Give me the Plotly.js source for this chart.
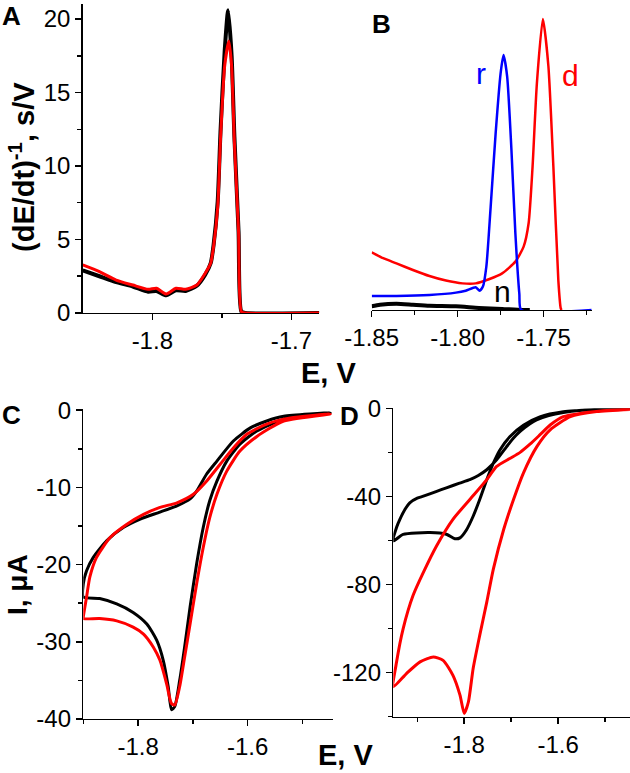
<!DOCTYPE html>
<html><head><meta charset="utf-8">
<script src="https://cdn.plot.ly/plotly-3.0.1.min.js"></script>
<style>html,body{margin:0;padding:0;background:#fff}#chart{width:630px;height:773px}</style>
</head><body><div id="chart"></div>
<script>
// ---------- Panel A : (dE/dt)^-1 vs E ----------
const A_black_E = [-1.85,-1.838,-1.826,-1.814,-1.803,-1.797,-1.790,-1.783,-1.776,-1.768,-1.762,-1.758,-1.756,-1.753,-1.751,-1.748,-1.7455,-1.743,-1.741,-1.738,-1.736,-1.733,-1.68];
const A_black_V = [2.9,2.5,2.1,1.8,1.45,1.5,1.2,1.55,1.5,1.85,2.6,3.4,4.6,7.6,12.3,17.8,20.6,17.5,12.0,5.5,0.1,0,0];
const A_red_E = [-1.85,-1.838,-1.826,-1.814,-1.803,-1.797,-1.790,-1.783,-1.776,-1.768,-1.762,-1.758,-1.756,-1.753,-1.751,-1.748,-1.745,-1.743,-1.741,-1.738,-1.736,-1.733,-1.68];
const A_red_V = [3.27,2.81,2.24,1.9,1.61,1.68,1.29,1.68,1.61,1.9,2.7,3.4,4.5,7.2,11.8,16.8,18.5,16.8,11.6,5.5,0.1,0,0];

// ---------- Panel B ----------
const B_n_E = [-1.85,-1.8452,-1.8356,-1.826,-1.8164,-1.801,-1.7876,-1.7741,-1.7625,-1.758];
const B_n_V = [0.25,0.36,0.43,0.36,0.29,0.25,0.14,0.07,0,0];
const B_d_E = [-1.85,-1.8433,-1.8356,-1.826,-1.8164,-1.8068,-1.7972,-1.7895,-1.7818,-1.7741,-1.7664,-1.7616,-1.7587,-1.7564,-1.7539,-1.7504,-1.7472,-1.7443,-1.7414,-1.74,-1.7395];
const B_d_V = [3.92,3.52,3.17,2.72,2.31,2.0,1.81,1.81,2.09,2.49,3.29,4.31,5.9,9.75,15.4,19.8,16.6,9.75,2.0,0.11,0];
const B_r_E = [-1.85,-1.8356,-1.8164,-1.801,-1.7953,-1.7895,-1.7872,-1.7853,-1.7833,-1.7808,-1.7779,-1.775,-1.7733,-1.7712,-1.7687,-1.7664,-1.7641,-1.763,-1.722];
const B_r_V = [0.95,0.95,1.02,1.18,1.31,1.54,1.31,1.59,2.95,7.0,12.0,16.1,17.35,15.9,10.9,5.2,1.1,0,0];
const B_labels = ["r","d","n"];

// ---------- Panel C : CV ----------
const C_black_E = [-1.449,-1.534,-1.583,-1.614,-1.638,-1.656,-1.669,-1.681,-1.693,-1.705,-1.715,-1.724,-1.733,-1.739,-1.745,-1.754,-1.766,-1.784,-1.809,-1.839,-1.87,-1.9,
                   -1.9,-1.894,-1.882,-1.857,-1.827,-1.796,-1.760,-1.729,-1.705,-1.693,-1.675,-1.656,-1.626,-1.595,-1.565,-1.534,-1.449];
const C_black_I = [-0.35,-1.2,-2.7,-4.4,-6.6,-9.2,-11.7,-15.2,-19.9,-25.5,-30.7,-35.0,-38.4,-38.8,-35.8,-32.4,-29.8,-27.7,-26.2,-25.1,-24.4,-24.2,
                   -22.5,-20.8,-19.1,-16.9,-15.2,-14.1,-13.2,-12.4,-11.5,-10.5,-8.3,-6.6,-4.0,-2.3,-1.4,-0.8,-0.35];
const C_red_E = [-1.449,-1.534,-1.583,-1.614,-1.638,-1.656,-1.669,-1.681,-1.693,-1.705,-1.715,-1.724,-1.733,-1.739,-1.748,-1.760,-1.772,-1.790,-1.809,-1.839,-1.87,-1.9,
                 -1.9,-1.894,-1.888,-1.876,-1.851,-1.821,-1.790,-1.760,-1.729,-1.699,-1.675,-1.650,-1.626,-1.601,-1.565,-1.522,-1.449];
const C_red_I = [-0.5,-1.4,-3.4,-5.3,-7.9,-10.9,-13.9,-17.8,-22.5,-27.7,-32.0,-35.8,-38.2,-38.0,-35.4,-32.4,-30.7,-29.0,-28.1,-27.3,-27.0,-27.0,
                 -26.8,-24.2,-21.6,-19.1,-16.5,-14.8,-13.5,-12.6,-12.0,-10.9,-9.2,-7.0,-4.9,-3.1,-1.8,-1.0,-0.5];

// ---------- Panel D : CV ----------
const D_black_E = [-1.447,-1.518,-1.589,-1.639,-1.674,-1.703,-1.724,-1.738,-1.752,-1.767,-1.781,-1.795,-1.809,-1.82,-1.838,-1.873,-1.93,-1.951,
                   -1.944,-1.937,-1.925,-1.916,-1.9,-1.887,-1.86,-1.838,-1.81,-1.788,-1.77,-1.752,-1.731,-1.71,-1.695,-1.681,-1.66,-1.646,-1.62,-1.589,-1.55,-1.518,-1.447];
const D_black_I = [-0.2,-0.6,-1.6,-3.9,-7.7,-12.9,-18.9,-24.9,-32.4,-41.4,-49,-55.1,-58.8,-59.2,-57.2,-56.4,-57.2,-60.2,
                   -54,-50.4,-45.5,-42.9,-40.8,-39.9,-37.8,-36.1,-34,-32.4,-30.5,-27.9,-23.4,-17.5,-13.5,-10.5,-7,-5.3,-3.3,-1.9,-0.9,-0.5,-0.1];
const D_red_E = [-1.447,-1.518,-1.574,-1.617,-1.645,-1.674,-1.695,-1.716,-1.738,-1.752,-1.767,-1.781,-1.791,-1.8,-1.809,-1.824,-1.845,-1.866,-1.894,-1.923,-1.951,
                 -1.944,-1.93,-1.909,-1.887,-1.859,-1.824,-1.788,-1.752,-1.731,-1.703,-1.681,-1.66,-1.639,-1.617,-1.589,-1.553,-1.482,-1.447];
const D_red_I = [-0.5,-1.5,-3.8,-9.8,-17.3,-29.4,-41.4,-55,-73,-88,-103.1,-118.1,-133.2,-138.5,-130.2,-121.2,-114.4,-112.9,-115.1,-120.4,-126.4,
                 -115.1,-100,-85,-74.5,-62.5,-50.4,-41.4,-32.4,-26.4,-22.8,-20.0,-16.3,-12.1,-7.6,-3.8,-2.3,-0.8,-0.4];

// ---------- Tick labels ----------
const A_xticks = [-1.8,-1.7], A_xtext = ["-1.8","-1.7"], A_xminor = [-1.75];
const A_yticks = [0,5,10,15,20], A_ytext = ["0","5","10","15","20"], A_yminor = [2.5,7.5,12.5,17.5];
const B_xticks = [-1.85,-1.80,-1.75], B_xtext = ["-1.85","-1.80","-1.75"], B_xminor = [-1.825,-1.775,-1.725];
const C_xticks = [-1.8,-1.6], C_xtext = ["-1.8","-1.6"], C_xminor = [-1.9,-1.7,-1.5];
const C_yticks = [0,-10,-20,-30,-40], C_ytext = ["0","-10","-20","-30","-40"], C_yminor = [-5,-15,-25,-35];
const D_xticks = [-1.8,-1.6], D_xtext = ["-1.8","-1.6"], D_xminor = [-1.9,-1.7,-1.5];
const D_yticks = [0,-40,-80,-120], D_ytext = ["0","-40","-80","-120"], D_yminor = [-20,-60,-100,-140];

const RED = "#ff0000", BLUE = "#0000ff", BLACK = "#000000";
const FONT = "Liberation Sans, Arial, sans-serif";

function tr(x, y, color, w, xa, ya) {
  return {x: x, y: y, mode: "lines", type: "scatter", xaxis: xa, yaxis: ya,
          line: {color: color, width: w, shape: "spline", smoothing: 0.6},
          hoverinfo: "skip", showlegend: false};
}
const traces = [
  tr(A_black_E, A_black_V, BLACK, 4, "x", "y"),
  tr(A_red_E, A_red_V, RED, 3, "x", "y"),
  tr(B_n_E, B_n_V, BLACK, 4, "x2", "y2"),
  tr(B_d_E, B_d_V, RED, 2.5, "x2", "y2"),
  tr(B_r_E, B_r_V, BLUE, 2.5, "x2", "y2"),
  tr(C_black_E, C_black_I, BLACK, 3, "x3", "y3"),
  tr(C_red_E, C_red_I, RED, 3, "x3", "y3"),
  tr(D_black_E, D_black_I, BLACK, 3, "x4", "y4"),
  tr(D_red_E, D_red_I, RED, 3, "x4", "y4")
];

function ax(domain, range, anchor, tv, tt, mv, extra) {
  return Object.assign({
    domain: domain, range: range, anchor: anchor, showgrid: false, zeroline: false,
    showline: true, linecolor: BLACK, linewidth: 1.5, mirror: false,
    ticks: "outside", ticklen: 6, tickwidth: 1.5, tickcolor: BLACK,
    tickmode: "array", tickvals: tv, ticktext: tt,
    tickfont: {family: FONT, size: 24, color: BLACK},
    minor: {tickmode: "array", tickvals: mv, ticks: "outside", ticklen: 4, tickwidth: 1.5, tickcolor: BLACK, showgrid: false},
    fixedrange: true
  }, extra || {});
}

const layout = {
  width: 630, height: 773, margin: {l: 0, r: 0, t: 0, b: 0},
  paper_bgcolor: "#fff", plot_bgcolor: "rgba(0,0,0,0)",
  font: {family: FONT, color: BLACK},
  showlegend: false,
  xaxis: ax([0.1313, 0.5068], [-1.85, -1.68], "y", A_xticks, A_xtext, A_xminor),
  yaxis: ax([0.5951, 0.9944], [0, 21], "x", A_yticks, A_ytext, A_yminor),
  xaxis2: ax([0.590, 0.9392], [-1.85, -1.722], "y2", B_xticks, B_xtext, B_xminor),
  yaxis2: ax([0.599, 0.9983], [0, 21], "x2", [], [], [], {visible: false, showline: false}),
  xaxis3: ax([0.1322, 0.5286], [-1.9, -1.444], "y3", C_xticks, C_xtext, C_xminor),
  yaxis3: ax([0.0699, 0.4709], [-40, 0.15], "x3", C_yticks, C_ytext, C_yminor),
  xaxis4: ax([0.6243, 1.0], [-1.951, -1.447], "y4", D_xticks, D_xtext, D_xminor),
  yaxis4: ax([0.0728, 0.4718], [-140, 0], "x4", D_yticks, D_ytext, D_yminor),
  annotations: [
    {text: "<b>A</b>", x: 0.019, y: 0.9793},
    {text: "<b>B</b>", x: 0.6063, y: 0.969},
    {text: "<b>C</b>", x: 0.019, y: 0.4631},
    {text: "<b>D</b>", x: 0.554, y: 0.4618},
    {text: "<b>(dE/dt)<sup>-1</sup>, s/V</b>", x: 0.0349, y: 0.784, textangle: -90, size: 29},
    {text: "<b>E, V</b>", x: 0.5222, y: 0.5175, size: 29},
    {text: "<b>E, V</b>", x: 0.549, y: 0.0, size: 29, ya: "bottom"},
    {text: "<b>I, μA</b>", x: 0.027, y: 0.2432, textangle: -90, size: 28},
    {text: B_labels[0], x: 0.7635, y: 0.9043, size: 30, color: BLUE},
    {text: B_labels[1], x: 0.9048, y: 0.9017, size: 30, color: RED},
    {text: B_labels[2], x: 0.7984, y: 0.6235, size: 30, color: BLACK}
  ].map(a => ({
    text: a.text, x: a.x, y: a.y, xref: "paper", yref: "paper",
    xanchor: "center", yanchor: a.ya || "middle", showarrow: false,
    textangle: a.textangle || 0,
    font: {family: FONT, size: a.size || 26, color: a.color || BLACK}
  }))
};

Plotly.newPlot("chart", traces, layout, {staticPlot: true, displayModeBar: false});
</script></body></html>
